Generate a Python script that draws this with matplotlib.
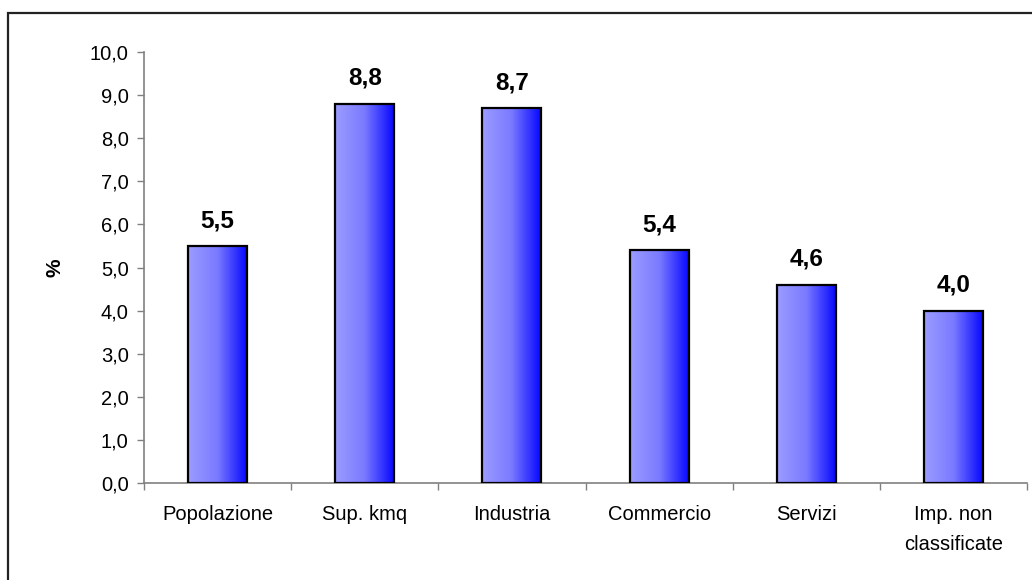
#!/usr/bin/env python
# Bar chart of percentage shares by category, with blue gradient bars

import numpy as np
import matplotlib
matplotlib.use("Agg")
import matplotlib.pyplot as plt
from matplotlib.patches import Rectangle
from matplotlib.ticker import FuncFormatter
from matplotlib.colors import LinearSegmentedColormap

# data
categories = ["Popolazione", "Sup. kmq", "Industria", "Commercio", "Servizi", "Imp. non\nclassificate"]
values = [5.5, 8.8, 8.7, 5.4, 4.6, 4.0]
y_ticks = np.arange(0, 11, 1)

plt.rcParams['font.family'] = ['Liberation Sans', 'DejaVu Sans']

fig = plt.figure(figsize=(10.32, 5.80), dpi=100)
ax = fig.add_axes([144/1032, 1 - 483/580, (1027 - 144)/1032, (483 - 52)/580])

x = np.arange(len(categories))
bars = ax.bar(x, values, width=0.4, facecolor='none', edgecolor='black', linewidth=1.6, zorder=3)

# horizontal gradient inside each bar, light on the left to deep blue on the right
cmap = LinearSegmentedColormap.from_list('bluegrad', ['#9c9cff', '#7a7aff', '#0808ff'])
grad = np.linspace(0, 1, 256).reshape(1, -1)
for b in bars:
    x0, y0 = b.get_x(), b.get_y()
    w, h = b.get_width(), b.get_height()
    im = ax.imshow(grad, cmap=cmap, aspect='auto', extent=(x0, x0 + w, y0, y0 + h),
                   interpolation='bicubic', zorder=2)
    im.set_clip_path(b)

# value labels above the bars
for xi, v in zip(x, values):
    ax.annotate(f"{v:.1f}".replace('.', ','), (xi, v), xytext=(0, 10), textcoords='offset points',
                ha='center', va='bottom', fontsize=17.5, fontweight='bold')

ax.set_xlim(-0.5, len(categories) - 0.5)
ax.set_ylim(0, 10)
ax.set_yticks(y_ticks)
ax.yaxis.set_major_formatter(FuncFormatter(lambda v, p: f"{v:.1f}".replace('.', ',')))

# ticks between categories, labels centred under bars
ax.set_xticks(np.arange(-0.5, len(categories), 1.0))
ax.set_xticklabels([])
ax.set_xticks(x, minor=True)
ax.set_xticklabels(categories, minor=True, fontsize=14.5, linespacing=1.7)
ax.tick_params(axis='x', which='minor', length=0, pad=16)
ax.tick_params(axis='x', which='major', length=5, width=1, color='#808080', direction='out')
ax.tick_params(axis='y', length=5, width=1, color='#808080', direction='out', labelsize=14.5, pad=6)

for s in ['top', 'right']:
    ax.spines[s].set_visible(False)
for s in ['left', 'bottom']:
    ax.spines[s].set_color('#808080')
    ax.spines[s].set_linewidth(1.2)

ax.set_ylabel('%', fontsize=15, fontweight='bold', labelpad=18)

# outer frame around the chart area
frame = Rectangle((8/1032, -0.1), 1.2, 1 - 13/580 + 0.1, transform=fig.transFigure,
                  fill=False, edgecolor='#222222', linewidth=1.6, zorder=0)
fig.patches.append(frame)

fig.savefig('out.png', dpi=100)
